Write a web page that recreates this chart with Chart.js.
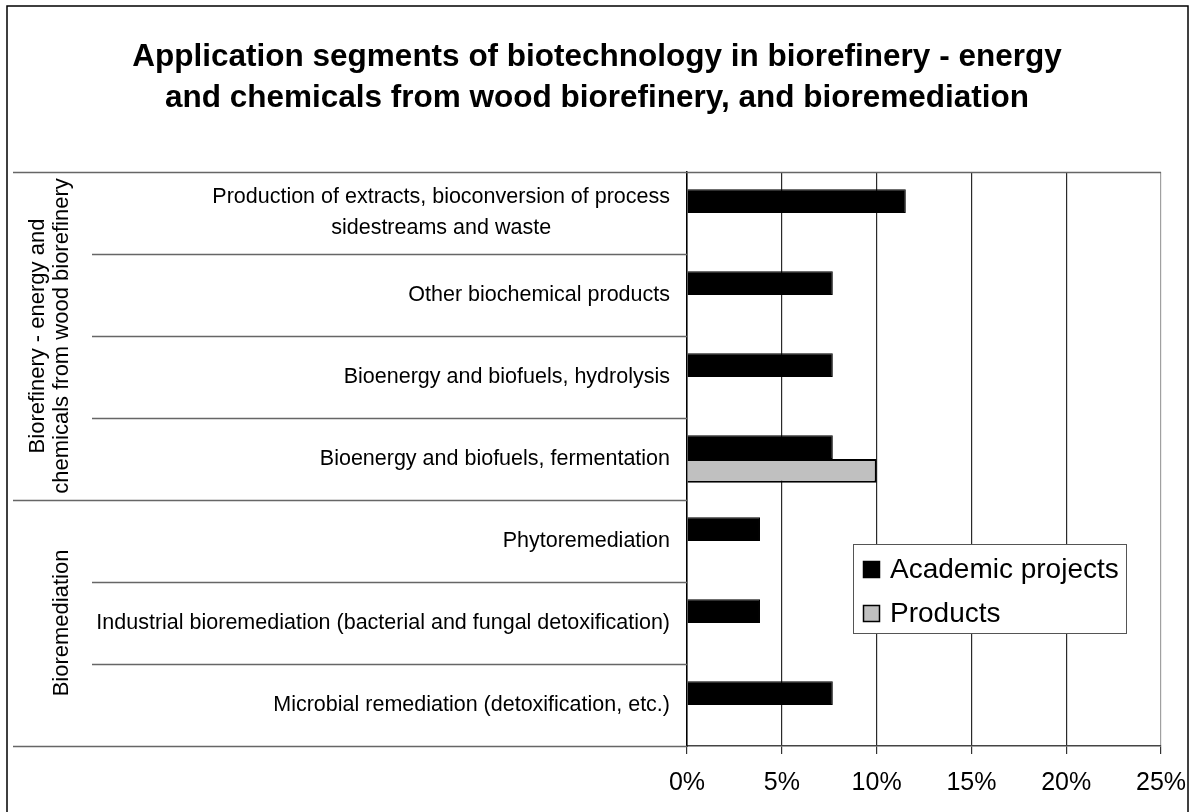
<!DOCTYPE html>
<html>
<head>
<meta charset="utf-8">
<script src="https://cdn.jsdelivr.net/npm/chart.js@4.4.1/dist/chart.umd.min.js"></script>
<style>
body { margin: 0; background: #fff; }
#chart { display: block; }
</style>
</head>
<body>
<canvas id="chart" width="1194" height="812"></canvas>
<script>
// ----------------------------------------------------------------------
// data

const categories = [
	["Production of extracts, bioconversion of process", "sidestreams and waste"],
	"Other biochemical products",
	"Bioenergy and biofuels, hydrolysis",
	"Bioenergy and biofuels, fermentation",
	"Phytoremediation",
	"Industrial bioremediation (bacterial and fungal detoxification)",
	"Microbial remediation (detoxification, etc.)"
]

const academic_projects = [11.54, 7.69, 7.69, 7.69, 3.85, 3.85, 7.69]
const products = [null, null, null, 10, null, null, null]

const groups = [
	{ lines: ["Biorefinery - energy and", "chemicals from wood biorefinery"], first: 0, last: 3 },
	{ lines: ["Bioremediation"], first: 4, last: 6 }
]

const title_lines = [
	"Application segments of biotechnology in biorefinery - energy",
	"and chemicals from wood biorefinery, and bioremediation"
]

const x_ticks = [0, 5, 10, 15, 20, 25]

const FONT = "'Liberation Sans', Arial, sans-serif"

// ----------------------------------------------------------------------
// frame, category labels, group labels and separator lines
const decor_plugin = {
	id: 'decor',
	afterDraw (chart)
	{
	const ctx = chart.ctx
	const ya = chart.scales.y
	const area = chart.chartArea

	ctx.save()

	// outer frame
	ctx.strokeStyle = '#000'
	ctx.lineWidth = 1.5
	ctx.strokeRect(7, 6, 1181, 900)

	// category boundaries
	const bound = function (i)
		{
		if (i <= 0) return area.top
		if (i >= categories.length) return area.bottom
		return (ya.getPixelForValue(i - 1) + ya.getPixelForValue(i)) / 2
		}

	ctx.strokeStyle = '#666'
	ctx.lineWidth = 1.5
	for (var it = 0; it <= categories.length; it += 1)
		{
		const yy = Math.round(bound(it)) + 0.5
		var x0 = 92
		groups.forEach(function (gg) {
			if (it === gg.first || it === gg.last + 1) x0 = 13
			})
		const x1 = (it === 0) ? area.right : area.left
		ctx.beginPath()
		ctx.moveTo(x0, yy)
		ctx.lineTo(x1, yy)
		ctx.stroke()
		}

	// category labels
	ctx.fillStyle = '#000'
	ctx.font = '21.5px ' + FONT
	ctx.textBaseline = 'middle'
	categories.forEach(function (lab, i) {
		const yc = ya.getPixelForValue(i)
		const xr = area.left - 17
		if (Array.isArray(lab))
			{
			var wmax = 0
			lab.forEach(function (s) { wmax = Math.max(wmax, ctx.measureText(s).width) })
			ctx.textAlign = 'center'
			const step = 31
			lab.forEach(function (s, k) {
				ctx.fillText(s, xr - wmax / 2, yc + (k - (lab.length - 1) / 2) * step)
				})
			}
		else
			{
			ctx.textAlign = 'right'
			ctx.fillText(lab, xr, yc)
			}
		})

	// group labels (vertical)
	ctx.font = '22px ' + FONT
	ctx.textAlign = 'center'
	groups.forEach(function (gg) {
		const yc = (bound(gg.first) + bound(gg.last + 1)) / 2
		const n = gg.lines.length
		gg.lines.forEach(function (s, k) {
			const xc = 62 - (n - 1 - k) * 24
			ctx.save()
			ctx.translate(xc, yc)
			ctx.rotate(-Math.PI / 2)
			ctx.fillText(s, 0, 0)
			ctx.restore()
			})
		})

	// legend box
	const lx = area.left + 166
	const ly = 544
	ctx.fillStyle = '#fff'
	ctx.fillRect(lx, ly, 273, 89)
	ctx.strokeStyle = '#555'
	ctx.lineWidth = 1
	ctx.strokeRect(lx + 0.5, ly + 0.5, 273, 89)

	ctx.font = '28px ' + FONT
	ctx.textAlign = 'left'
	chart.data.datasets.forEach(function (ds, k) {
		const yc = ly + 25 + k * 44
		ctx.fillStyle = ds.backgroundColor
		ctx.fillRect(lx + 10, yc - 8, 17, 17)
		ctx.strokeStyle = '#000'
		ctx.lineWidth = 1.5
		ctx.strokeRect(lx + 10.5, yc - 7.5, 16, 16)
		ctx.fillStyle = '#000'
		ctx.fillText(ds.label, lx + 37, yc + 1)
		})

	ctx.restore()
	}
}

// ----------------------------------------------------------------------
function prog01 ()
{
	const graph_data = {
		labels: categories,
		datasets: [
			{ label: "Academic projects", data: academic_projects,
				backgroundColor: '#000000', borderColor: '#000000', borderWidth: 1 },
			{ label: "Products", data: products,
				backgroundColor: '#c0c0c0', borderColor: '#000000', borderWidth: 2 }
			]
		}

	const options = {
		indexAxis: 'y',
		responsive: false,
		animation: false,
		events: [],
		layout: { padding: { left: 33, right: 33, top: 0, bottom: 0 } },
		datasets: { bar: { categoryPercentage: 0.58, barPercentage: 1.0, grouped: true } },
		plugins: {
			legend: { display: false },
			tooltip: { enabled: false },
			title: {
				display: true,
				text: title_lines,
				color: '#000',
				font: { family: FONT, size: 31.5, weight: 'bold', lineHeight: 1.3 },
				padding: { top: 36.5, bottom: 53.6 }
				}
			},
		scales: {
			x: {
				min: 0,
				max: 25,
				afterBuildTicks: function (axis) {
					axis.ticks = x_ticks.map(function (v) { return { value: v } })
					},
				afterFit: function (axis) {
					axis.height = 66
					axis.paddingLeft = 0
					axis.paddingRight = 0
					},
				ticks: {
					color: '#000',
					font: { family: FONT, size: 25 },
					padding: 14,
					maxRotation: 0,
					callback: function (v) { return v + '%' }
					},
				grid: {
					color: function (c) { return c.tick && c.tick.value === 25 ? '#a0a0a0' : '#2a2a2a' },
					lineWidth: 1.2,
					tickLength: 8,
					tickColor: '#333'
					},
				border: { display: true, color: '#444', width: 1.5 }
				},
			y: {
				afterFit: function (axis) { axis.width = 654 },
				ticks: { display: false },
				grid: { display: false },
				border: { display: true, color: '#000', width: 1.5 }
				}
			}
		}

	const config = {
		type: 'bar',
		data: graph_data,
		options: options,
		plugins: [decor_plugin]
		}

	const context = document.getElementById("chart")
	const chart = new Chart(context, config)
}

prog01 ()
</script>
</body>
</html>
